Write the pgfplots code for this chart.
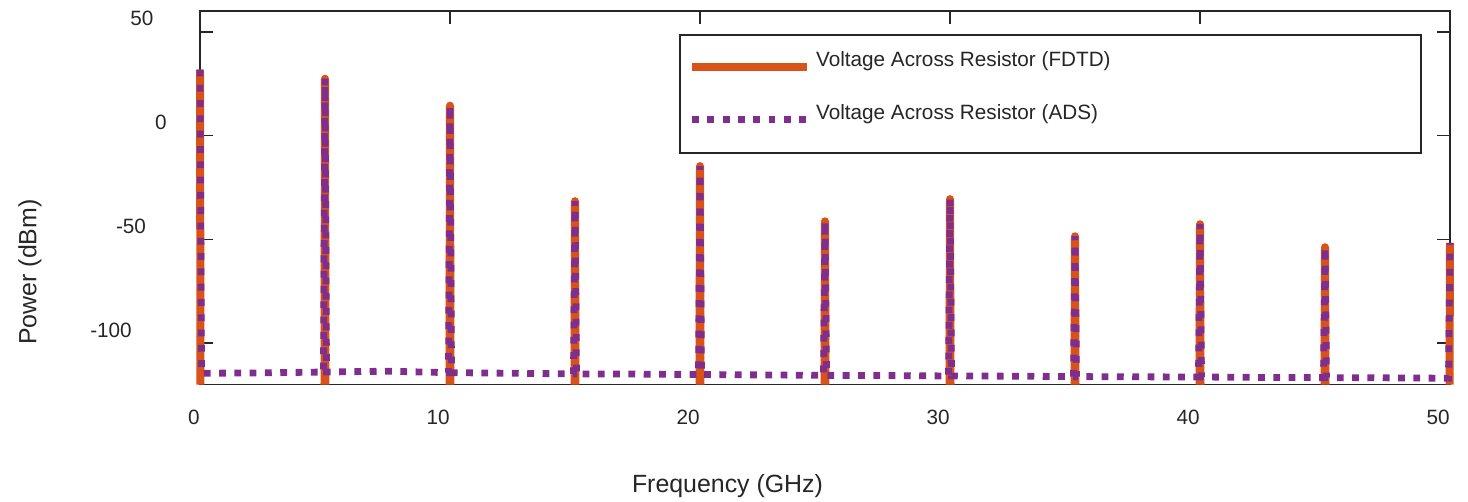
\documentclass[border=0pt]{standalone}
\usepackage{fontspec}
\setmainfont{Liberation Sans}
\usepackage{pgfplots}
\pgfplotsset{compat=1.18}
\definecolor{fdtd}{HTML}{D95319}
\definecolor{ads}{HTML}{7E2F8E}
\definecolor{axgray}{HTML}{262626}
\newcommand{\tfont}{\fontsize{10.35}{12.4}\selectfont}
\newcommand{\lfont}{\fontsize{12.45}{15}\selectfont}
\newcommand{\yl}[2]{\rlap{\hspace*{#1}\makebox[0pt]{#2}}}
\pgfplotsset{
  fdtdleg/.style={legend image code/.code={\draw[##1] (0pt,-0.3pt) -- (57.5pt,-0.3pt);}},
  adsleg/.style={legend image code/.code={\draw[##1] (0pt,-0.4pt) -- (57.5pt,-0.4pt);}},
}
\begin{document}
\begin{tikzpicture}
\path[use as bounding box] (-100pt,-58.65pt) rectangle (634pt,192.35pt);
\begin{axis}[
  at={(0,0)}, anchor=south west,
  scale only axis, width=625pt, height=186.85pt,
  xmin=0, xmax=50, ymin=-120, ymax=60,
  clip=false,
  unbounded coords=jump,
  axis line style={axgray, line width=0.8pt},
  tick style={axgray, line width=0.8pt},
  tick align=inside, major tick length=6.5pt,
  xtick={0,10,20,30,40,50}, xticklabels={0,10,20,30,40,50},
  ytick={-100,-50,0,50},
  yticklabels={\yl{-44.5pt}{-100},\yl{-34.5pt}{-50},\yl{-19.5pt}{0},\yl{-29pt}{50}},
  xticklabel style={font=\tfont, anchor=north east, inner sep=0pt, yshift=-12.65pt, text=axgray},
  yticklabel style={font=\tfont, anchor=center, inner sep=0pt, yshift=6.5pt, text=axgray},
  xlabel={Frequency (GHz)}, ylabel={Power (dBm)},
  xlabel style={font=\lfont, at={(axis description cs:0.422,-0.272)}, anchor=center, text=axgray},
  ylabel style={font=\lfont, at={(axis description cs:-0.136,0.3016)}, anchor=center, text=axgray},
  legend style={at={(axis description cs:0.3834,0.9377)}, anchor=north west,
    draw=axgray, line width=0.9pt, fill=white, inner xsep=4pt, inner ysep=0pt,
    nodes={inner sep=0pt, text depth=, font=\tfont, text=axgray},
    cells={anchor=base west}, column sep=2.5pt, row sep=0pt},
]
\addplot[fdtd, line width=4pt, line join=round, line cap=butt, fdtdleg]
coordinates {
(0,31.8) (0.02,-120) (2,nan)
(4.98,-120) (5,27.4) (5.02,-120) (7,nan)
(9.98,-120) (10,14.4) (10.02,-120) (12,nan)
(14.98,-120) (15,-31.6) (15.02,-120) (17,nan)
(19.98,-120) (20,-14.7) (20.02,-120) (22,nan)
(24.98,-120) (25,-41.3) (25.02,-120) (27,nan)
(29.98,-120) (30,-30.6) (30.02,-120) (32,nan)
(34.98,-120) (35,-48.5) (35.02,-120) (37,nan)
(39.98,-120) (40,-42.7) (40.02,-120) (42,nan)
(44.98,-120) (45,-53.8) (45.02,-120) (47,nan)
(49.98,-120) (50,-51.7)
};
\addlegendentry{\rule[-10.75pt]{0pt}{26.35pt}\makebox[298.5pt][l]{Voltage Across Resistor (FDTD)}}
\addplot[ads, line width=3.4pt, dash pattern=on 3.4pt off 4.25pt, line cap=butt, line join=miter, adsleg]
coordinates {
(0,31.8) (0.06,-114.5) (2.5,-114.3) (4.94,-113.9)
(5,27.4) (5.06,-113.9) (7.5,-113.5) (9.94,-114.2)
(10,14.4) (10.06,-114.2) (12.5,-114.5) (14.94,-114.8)
(15,-31.6) (15.06,-114.8) (17.5,-114.9) (19.94,-115.1)
(20,-14.7) (20.06,-115.1) (22.5,-115.3) (24.94,-115.5)
(25,-41.3) (25.06,-115.5) (27.5,-115.6) (29.94,-115.8)
(30,-30.6) (30.06,-115.8) (32.5,-115.9) (34.94,-116.1)
(35,-48.5) (35.06,-116.1) (37.5,-116.2) (39.94,-116.3)
(40,-42.7) (40.06,-116.3) (42.5,-116.5) (44.94,-116.6)
(45,-53.8) (45.06,-116.6) (47.5,-116.7) (49.94,-116.9)
(50,-51.7)
};
\addlegendentry{\rule[-17.05pt]{0pt}{32.65pt}\makebox[298.5pt][l]{Voltage Across Resistor (ADS)}}
\end{axis}
\end{tikzpicture}
\end{document}
